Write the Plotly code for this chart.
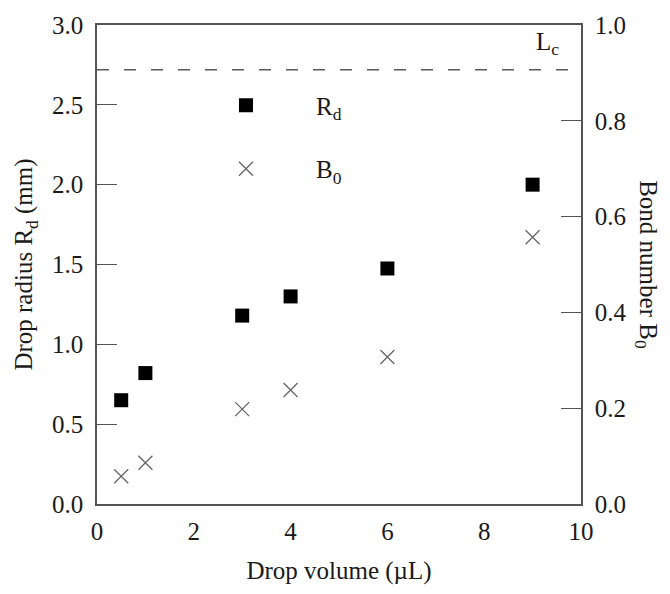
import plotly.graph_objects as go

# Data
volume_uL = [0.5, 1, 3, 4, 6, 9]
drop_radius_mm = [0.65, 0.82, 1.18, 1.30, 1.475, 2.0]
bond_number = [0.058, 0.086, 0.198, 0.238, 0.307, 0.557]
capillary_length_mm = 2.72

x_ticks = [0, 2, 4, 6, 8, 10]
left_ticks = [0.0, 0.5, 1.0, 1.5, 2.0, 2.5, 3.0]
right_ticks = [0.0, 0.2, 0.4, 0.6, 0.8, 1.0]

FONT = "Liberation Serif"
TXT = "#1a1a1a"
AX = "#555555"
NB = "\u00a0"
FS = 25

fig = go.Figure()
fig.add_trace(go.Scatter(
    x=volume_uL, y=drop_radius_mm, mode="markers", name=NB * 8 + "R<sub>d</sub>",
    marker=dict(symbol="square", size=14, color="black"),
    legendgroup="a", yaxis="y",
))
fig.add_trace(go.Scatter(
    x=volume_uL, y=bond_number, mode="markers", name=NB * 8 + "B<sub>0</sub>",
    marker=dict(symbol="x-thin-open", size=14, color="#666666", line=dict(width=1.3, color="#666666")),
    legendgroup="b", yaxis="y2",
))

fig.add_shape(type="line", xref="paper", x0=0, x1=1, yref="y", y0=capillary_length_mm, y1=capillary_length_mm,
              line=dict(color="#5a5a5a", width=1.4, dash="12px,15px"), layer="below")

fig.add_annotation(xref="x", yref="y", x=9.3, y=capillary_length_mm, yanchor="bottom", yshift=9,
                   text="L<sub>c</sub>", showarrow=False, font=dict(family=FONT, size=FS, color=TXT))

fig.add_annotation(xref="paper", yref="paper", x=1.135, y=0.5, xanchor="center", yanchor="middle",
                   text="Bond number B<sub>0</sub>",
                   textangle=90, showarrow=False, font=dict(family=FONT, size=FS, color=TXT))

axis_common = dict(showline=True, linecolor=AX, linewidth=1.5, showgrid=False, zeroline=False,
                   tickfont=dict(family=FONT, size=FS, color=TXT))

fig.update_layout(
    width=670, height=594,
    margin=dict(l=97, r=89, t=18, b=90),
    paper_bgcolor="white", plot_bgcolor="white",
    font=dict(family=FONT, size=FS, color=TXT),
    showlegend=True,
    legend=dict(x=0.2665, y=0.88, xanchor="left", yanchor="top", bgcolor="rgba(0,0,0,0)",
                tracegroupgap=28, font=dict(family=FONT, size=FS, color=TXT)),
    xaxis=dict(range=[0, 10], tickvals=x_ticks, ticks="", mirror=True, ticklabelstandoff=4,
               title=dict(text="Drop volume (\u00b5L)", standoff=18, font=dict(family=FONT, size=FS, color=TXT)),
               **axis_common),
    yaxis=dict(range=[0, 3.0], tickvals=left_ticks, tickformat=".1f", ticks="inside", ticklen=20,
               tickcolor=AX, tickwidth=1.3, ticklabelstandoff=7,
               title=dict(text="Drop radius R<sub>d</sub> (mm)", standoff=12, font=dict(family=FONT, size=FS, color=TXT)),
               **axis_common),
    yaxis2=dict(range=[0, 1.0], tickvals=right_ticks, tickformat=".1f", ticks="inside", ticklen=20,
                tickcolor=AX, tickwidth=1.3, overlaying="y", side="right", ticklabelstandoff=7,
                **axis_common),
)

fig.write_html("out.html")
